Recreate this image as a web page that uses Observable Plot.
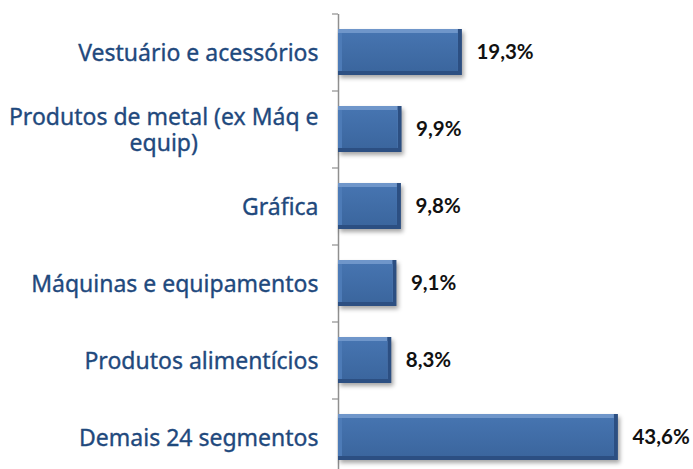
<!DOCTYPE html>
<html>
<head>
<meta charset="utf-8">
<script src="https://cdn.jsdelivr.net/npm/d3@7"></script>
<script src="https://cdn.jsdelivr.net/npm/@observablehq/plot@0.6"></script>
<style>
  html, body { margin: 0; padding: 0; background: #fff; }
  #chart svg { display: block; }
</style>
</head>
<body>
<div id="chart"></div>
<script>
const categories = [
  "Vestuário e acessórios",
  "Produtos de metal (ex Máq e\nequip)",
  "Gráfica",
  "Máquinas e equipamentos",
  "Produtos alimentícios",
  "Demais 24 segmentos"
];
const values = [19.3, 9.9, 9.8, 9.1, 8.3, 43.6];
const valueLabels = ["19,3%", "9,9%", "9,8%", "9,1%", "8,3%", "43,6%"];

const data = categories.map((c, i) => ({category: c, value: values[i], label: valueLabels[i]}));

const W = 693, H = 469;
const yRange = [14, 476];
const step = (yRange[1] - yRange[0]) / categories.length;

const svg = Plot.plot({
  width: W,
  height: H,
  marginLeft: 338,
  marginRight: 34,
  marginTop: 14,
  marginBottom: 0,
  x: {domain: [0, 50], range: [338, 659], axis: null},
  y: {domain: categories, range: yRange, paddingInner: 0.4, paddingOuter: 0.2, axis: null},
  marks: [
    Plot.ruleX([0], {stroke: "#8f8f8f", strokeWidth: 1.5}),
    Plot.axisY({tickSize: 6, tickFormat: () => "", label: null, stroke: "#8f8f8f", strokeWidth: 1.2, dy: -step / 2}),
    Plot.barX(data, {x: "value", y: "category", fill: "#2c4f82"}),
    Plot.barX(data, {x: "value", y: "category", fill: "#6f96ca", insetRight: 4, insetBottom: 4}),
    Plot.barX(data, {x: "value", y: "category", fill: "#4d7bb7", insetRight: 4, insetBottom: 4, insetTop: 4}),
    Plot.barX(data, {x: "value", y: "category", fill: "url(#barGrad)", insetLeft: 4, insetRight: 4, insetTop: 4, insetBottom: 4}),
    Plot.text(data, {x: "value", y: "category", text: "label", dx: 14, textAnchor: "start",
      fontSize: 20.5, fontWeight: "bold", fontFamily: "Lato", fill: "#111"}),
    Plot.text(data, {x: 0, y: "category", text: "category", dx: -20, textAnchor: "end",
      fontSize: 23, fontFamily: "Noto Sans", fill: "#1f497d", stroke: "#1f497d", strokeWidth: 0.35,
      lineHeight: 1.15})
  ]
});

// gradient defs for bars
const ns = "http://www.w3.org/2000/svg";
const defs = document.createElementNS(ns, "defs");
defs.innerHTML = `<linearGradient id="barGrad" x1="0" y1="0" x2="0" y2="1">
  <stop offset="0" stop-color="#4674b0"/>
  <stop offset="1" stop-color="#3b669e"/>
</linearGradient>`;
svg.insertBefore(defs, svg.firstChild);

const barGroups = svg.querySelectorAll("g[aria-label='bar']");
if (barGroups[0]) barGroups[0].setAttribute("style", "filter: drop-shadow(2px 3px 2px rgba(0,0,0,0.35))");

document.getElementById("chart").appendChild(svg);

// center-align multi-line category labels around their own center, keeping right edge
const textGroups = svg.querySelectorAll("g[aria-label='text']");
const labelGroup = textGroups[textGroups.length - 1];
labelGroup.querySelectorAll("text").forEach(t => {
  if (t.querySelectorAll("tspan").length > 1) {
    const bb = t.getBBox();
    const tr = t.getAttribute("transform") || "";
    const m = tr.match(/translate\(([-\d.e]+)[ ,]+([-\d.e]+)\)/);
    if (m) {
      const tx = parseFloat(m[1]);
      const cx = tx + bb.x + bb.width / 2;
      t.setAttribute("text-anchor", "middle");
      t.setAttribute("transform", `translate(${cx},${m[2]})`);
    }
  }
});
</script>
</body>
</html>
